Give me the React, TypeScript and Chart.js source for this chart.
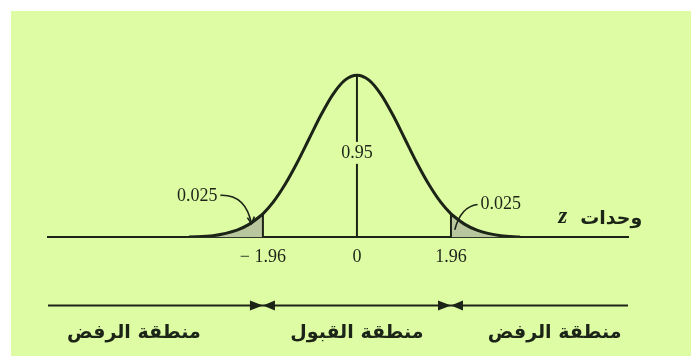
import React, { useEffect, useRef } from 'react';
import { Chart, registerables } from 'chart.js';

Chart.register(...registerables);

// Standard normal curve, read as (z, density) pairs
const zPoints = [-3.5, -3, -2.5, -2.25, -2, -1.96, -1.75, -1.5, -1.25, -1, -0.75, -0.5, -0.25, 0, 0.25, 0.5, 0.75, 1, 1.25, 1.5, 1.75, 1.96, 2, 2.25, 2.5, 3, 3.4];
const densityValues = [0.001, 0.004, 0.018, 0.032, 0.054, 0.058, 0.086, 0.13, 0.183, 0.242, 0.301, 0.352, 0.387, 0.399, 0.387, 0.352, 0.301, 0.242, 0.183, 0.13, 0.086, 0.058, 0.054, 0.032, 0.018, 0.004, 0.001];

// Critical values bounding the acceptance region
const criticalZ = [-1.96, 1.96];

// Axis ticks
const tickValues = [-1.96, 0, 1.96];
const tickLabels = ['\u2212 1.96', '0', '1.96'];

// Areas under the curve
const centreArea = '0.95';
const tailArea = '0.025';

// Captions
const axisCaption = 'وحدات';
const axisVariable = 'z';
const regionLabels = ['منطقة الرفض', 'منطقة القبول', 'منطقة الرفض'];

const BG = '#defca4';
const INK = '#1c2417';
const TAIL_FILL = '#b8c79d';
const NUM_FONT = '"Liberation Serif", "DejaVu Serif", serif';
const AR_FONT = '"DejaVu Sans", "Noto Sans", sans-serif';

const densityAt = (z: number) => densityValues[zPoints.indexOf(z)];
const curvePoints = zPoints.map((z, i) => ({ x: z, y: densityValues[i] }));

const annotations = {
  id: 'annotations',
  afterDatasetsDraw(chart: any) {
    const { ctx, chartArea, scales } = chart;
    const x = scales.x;
    const y = scales.y;
    ctx.save();
    ctx.fillStyle = INK;
    ctx.strokeStyle = INK;
    ctx.textAlign = 'center';
    ctx.textBaseline = 'middle';

    // centre area label, sitting in a gap of the centre line
    ctx.font = `18px ${NUM_FONT}`;
    const cx = x.getPixelForValue(0);
    const cy = y.getPixelForValue(0.208);
    const cw = ctx.measureText(centreArea).width;
    ctx.fillStyle = BG;
    ctx.fillRect(cx - cw / 2 - 3, cy - 11, cw + 6, 22);
    ctx.fillStyle = INK;
    ctx.fillText(centreArea, cx, cy);

    // tail area labels with leader curves
    const lx = x.getPixelForValue(-3.33);
    const ly = y.getPixelForValue(0.101);
    ctx.fillText(tailArea, lx, ly);
    const rx = x.getPixelForValue(3.0);
    const ry = y.getPixelForValue(0.081);
    ctx.fillText(tailArea, rx, ry);
    const tw = ctx.measureText(tailArea).width;

    ctx.lineWidth = 1.6;
    const lEndX = x.getPixelForValue(-2.2);
    const lEndY = y.getPixelForValue(0.034);
    ctx.beginPath();
    ctx.moveTo(lx + tw / 2 + 3, ly - 1);
    ctx.quadraticCurveTo(lEndX - 6, ly - 2, lEndX, lEndY);
    ctx.stroke();
    ctx.beginPath();
    ctx.moveTo(lEndX - 4, lEndY - 6);
    ctx.lineTo(lEndX, lEndY);
    ctx.lineTo(lEndX + 3, lEndY - 7);
    ctx.stroke();

    const rEndX = x.getPixelForValue(2.04);
    const rEndY = y.getPixelForValue(0.019);
    ctx.beginPath();
    ctx.moveTo(rx - tw / 2 - 3, ry);
    ctx.quadraticCurveTo(rEndX + 6, ry + 2, rEndX, rEndY);
    ctx.stroke();

    // axis caption: "وحدات z"
    const capY = y.getPixelForValue(0.046);
    ctx.font = `bold italic 23px ${NUM_FONT}`;
    ctx.fillText(axisVariable, x.getPixelForValue(4.29), capY - 2);
    ctx.font = `bold 19px ${AR_FONT}`;
    ctx.fillText(axisCaption, x.getPixelForValue(5.3), capY);

    // region line with arrowheads meeting at the critical values
    const base = chartArea.bottom;
    const lineY = base + 68;
    ctx.lineWidth = 2;
    ctx.beginPath();
    ctx.moveTo(chartArea.left, lineY);
    ctx.lineTo(chartArea.right, lineY);
    ctx.stroke();
    criticalZ.forEach((c) => {
      const px = x.getPixelForValue(c);
      ctx.beginPath();
      ctx.moveTo(px, lineY);
      ctx.lineTo(px - 13, lineY - 5);
      ctx.lineTo(px - 13, lineY + 5);
      ctx.closePath();
      ctx.fill();
      ctx.beginPath();
      ctx.moveTo(px, lineY);
      ctx.lineTo(px + 12, lineY - 5);
      ctx.lineTo(px + 12, lineY + 5);
      ctx.closePath();
      ctx.fill();
    });

    // region names
    const textY = base + 96;
    ctx.font = `bold 19px ${AR_FONT}`;
    const regionCentres = [-4.65, 0, 4.12];
    regionLabels.forEach((t, i) => {
      ctx.fillText(t, x.getPixelForValue(regionCentres[i]), textY);
    });

    ctx.restore();
  },
};

export default function App() {
  const ref = useRef<HTMLCanvasElement>(null);

  useEffect(() => {
    const canvas = ref.current;
    if (!canvas) return;
    const chart = new Chart(canvas, {
      type: 'line',
      data: {
        datasets: [
          {
            label: 'curve',
            data: curvePoints,
            borderColor: INK,
            borderWidth: 3,
            pointRadius: 0,
            cubicInterpolationMode: 'monotone',
            fill: false,
            order: 0,
          },
          {
            label: 'centre',
            data: [{ x: 0, y: 0 }, { x: 0, y: densityAt(0) }],
            borderColor: INK,
            borderWidth: 2,
            pointRadius: 0,
            fill: false,
            order: 1,
          },
          ...criticalZ.map((c) => ({
            label: `critical ${c}`,
            data: [{ x: c, y: 0 }, { x: c, y: densityAt(c) }],
            borderColor: INK,
            borderWidth: 2,
            pointRadius: 0,
            fill: false,
            order: 1,
          })),
          {
            label: 'lower tail',
            data: curvePoints.filter((p) => p.x <= criticalZ[0]),
            borderWidth: 0,
            borderColor: 'rgba(0,0,0,0)',
            backgroundColor: TAIL_FILL,
            pointRadius: 0,
            cubicInterpolationMode: 'monotone',
            fill: 'origin',
            order: 5,
          },
          {
            label: 'upper tail',
            data: curvePoints.filter((p) => p.x >= criticalZ[1]),
            borderWidth: 0,
            borderColor: 'rgba(0,0,0,0)',
            backgroundColor: TAIL_FILL,
            pointRadius: 0,
            cubicInterpolationMode: 'monotone',
            fill: 'origin',
            order: 5,
          },
        ],
      },
      options: {
        animation: false,
        responsive: false,
        events: [],
        layout: { padding: { left: 37, right: 63, top: 43.5, bottom: 87 } },
        plugins: { legend: { display: false }, tooltip: { enabled: false } },
        scales: {
          x: {
            type: 'linear',
            min: -6.44,
            max: 5.65,
            z: 1,
            grid: { display: false },
            border: { display: true, color: INK, width: 2 },
            afterBuildTicks: (scale: any) => {
              scale.ticks = tickValues.map((v) => ({ value: v }));
            },
            ticks: {
              autoSkip: false,
              maxRotation: 0,
              padding: 1,
              color: INK,
              font: { family: NUM_FONT, size: 18 },
              callback: (v: any) => tickLabels[tickValues.indexOf(Number(v))],
            },
          },
          y: { display: false, min: 0, max: 0.45 },
        },
      },
      plugins: [annotations],
    } as any);
    return () => chart.destroy();
  }, []);

  return (
    <div style={{ position: 'fixed', left: 0, top: 0, width: 691, height: 356, background: '#ffffff' }}>
      <canvas
        ref={ref}
        width={680}
        height={345}
        style={{ position: 'absolute', left: 11, top: 11, width: 680, height: 345, background: BG }}
      />
    </div>
  );
}
